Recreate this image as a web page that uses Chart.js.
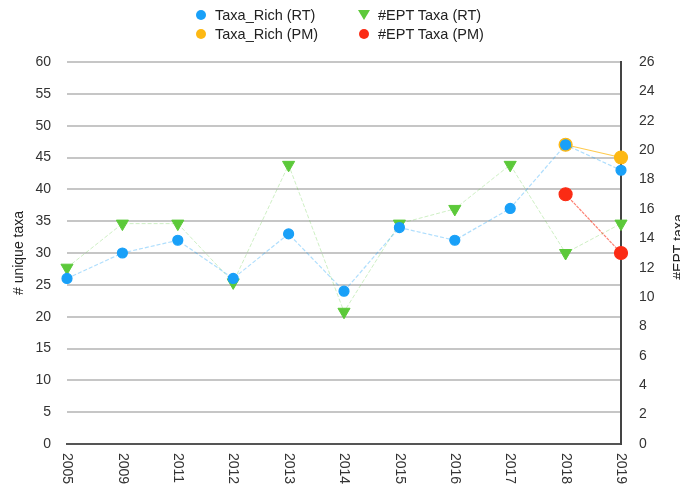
<!DOCTYPE html>
<html>
<head>
<meta charset="utf-8">
<script src="https://cdn.jsdelivr.net/npm/chart.js@4"></script>
<style>
  body { margin: 0; background: #fff; }
  #wrap { position: relative; width: 680px; height: 486px; font-family: "Liberation Sans", Arial, sans-serif; }
  #leyenda { position: absolute; left: 0; top: 0; width: 680px; height: 50px; font-size: 14.5px; color: #222; }
  .item { position: absolute; height: 18px; line-height: 18px; white-space: nowrap; }
  .punto { position: absolute; width: 10px; height: 10px; border-radius: 50%; top: 4px; left: -19px; }
  .tri { position: absolute; width: 0; height: 0; top: 4px; left: -20px;
         border-left: 6px solid transparent; border-right: 6px solid transparent; border-top: 10px solid #5cc93a; }
</style>
</head>
<body>
<div id="wrap">
  <canvas id="grafico" width="680" height="486"></canvas>
  <div id="leyenda"></div>
</div>
<script>
// datos
const anios = ['2005', '2009', '2011', '2012', '2013', '2014', '2015', '2016', '2017', '2018', '2019'];
const taxaRichRT = [26, 30, 32, 26, 33, 24, 34, 32, 37, 47, 43];
const eptRT = [12, 15, 15, 11, 19, 9, 15, 16, 19, 13, 15];
const taxaRichPM = [null, null, null, null, null, null, null, null, null, 47, 45];
const eptPM = [null, null, null, null, null, null, null, null, null, 17, 13];
const ticksIzq = [0, 5, 10, 15, 20, 25, 30, 35, 40, 45, 50, 55, 60];
const ticksDer = [0, 2, 4, 6, 8, 10, 12, 14, 16, 18, 20, 22, 24, 26];

const AZUL = '#19a0f8';
const VERDE = '#5cc93a';
const NARANJA = '#fdb813';
const ROJO = '#fb2b14';
const FUENTE = '"Liberation Sans", Arial, sans-serif';

// leyenda en html (2 columnas)
const leyenda = document.getElementById('leyenda');
const itemsLeyenda = [
  { texto: 'Taxa_Rich (RT)', color: AZUL, x: 215, y: 6, tri: false },
  { texto: '#EPT Taxa (RT)', color: VERDE, x: 378, y: 6, tri: true },
  { texto: 'Taxa_Rich (PM)', color: NARANJA, x: 215, y: 25, tri: false },
  { texto: '#EPT Taxa (PM)', color: ROJO, x: 378, y: 25, tri: false }
];
itemsLeyenda.forEach(it => {
  const div = document.createElement('div');
  div.className = 'item';
  div.style.left = it.x + 'px';
  div.style.top = it.y + 'px';
  const marca = document.createElement('span');
  if (it.tri) {
    marca.className = 'tri';
  } else {
    marca.className = 'punto';
    marca.style.background = it.color;
  }
  div.appendChild(marca);
  div.appendChild(document.createTextNode(it.texto));
  leyenda.appendChild(div);
});

// etiquetas del eje x giradas y titulo derecho
const textosExtra = {
  id: 'textosExtra',
  afterDraw(chart) {
    const c = chart.ctx;
    const ejeX = chart.scales.x;
    c.save();
    c.font = '14px ' + FUENTE;
    c.fillStyle = '#333';
    c.textAlign = 'left';
    c.textBaseline = 'middle';
    anios.forEach((a, i) => {
      const px = ejeX.getPixelForTick(i);
      c.save();
      c.translate(px, 453);
      c.rotate(Math.PI / 2);
      c.fillText(a, 0, 0);
      c.restore();
    });
    c.fillStyle = '#222';
    c.translate(679, 247);
    c.rotate(-Math.PI / 2);
    c.textAlign = 'center';
    c.fillText('#EPT taxa', 0, 0);
    c.restore();
  }
};

new Chart(document.getElementById('grafico').getContext('2d'), {
  type: 'line',
  data: {
    labels: anios,
    datasets: [
      {
        label: 'Taxa_Rich (RT)',
        data: taxaRichRT,
        yAxisID: 'y',
        borderColor: 'rgba(25,160,248,0.35)',
        borderWidth: 1.2,
        borderDash: [4, 2],
        pointBackgroundColor: AZUL,
        pointBorderColor: AZUL,
        pointRadius: 5,
        clip: false
      },
      {
        label: '#EPT Taxa (RT)',
        data: eptRT,
        yAxisID: 'y2',
        borderColor: 'rgba(92,201,58,0.3)',
        borderWidth: 1,
        borderDash: [4, 2],
        pointStyle: 'triangle',
        rotation: 180,
        pointBackgroundColor: VERDE,
        pointBorderColor: VERDE,
        pointRadius: 7,
        clip: false
      },
      {
        label: 'Taxa_Rich (PM)',
        data: taxaRichPM,
        yAxisID: 'y',
        borderColor: 'rgba(253,184,19,0.75)',
        borderWidth: 1.2,
        pointBackgroundColor: NARANJA,
        pointBorderColor: NARANJA,
        pointRadius: 6.5,
        clip: false
      },
      {
        label: '#EPT Taxa (PM)',
        data: eptPM,
        yAxisID: 'y2',
        borderColor: 'rgba(251,43,20,0.6)',
        borderWidth: 1.2,
        borderDash: [3, 1],
        pointBackgroundColor: ROJO,
        pointBorderColor: ROJO,
        pointRadius: 6.5,
        clip: false
      }
    ]
  },
  options: {
    responsive: false,
    animation: false,
    layout: { padding: { top: 62, left: 0, right: 0, bottom: 0 } },
    plugins: {
      legend: { display: false },
      tooltip: { enabled: false }
    },
    scales: {
      x: {
        offset: false,
        grid: { display: false },
        border: { display: true, color: '#555', width: 2 },
        ticks: { display: false },
        afterFit(scale) { scale.height = 42; }
      },
      y: {
        position: 'left',
        min: 0,
        max: 60,
        afterBuildTicks(scale) { scale.ticks = ticksIzq.map(v => ({ value: v })); },
        grid: { color: '#c6c6c6', lineWidth: 2, drawTicks: false },
        border: { display: false },
        ticks: {
          padding: 16,
          color: '#333',
          font: { family: FUENTE, size: 14 }
        },
        title: {
          display: true,
          text: '# unique taxa',
          color: '#222',
          padding: { top: 11, bottom: 0 },
          font: { family: FUENTE, size: 14 }
        },
        afterFit(scale) { scale.width = 67; }
      },
      y2: {
        position: 'right',
        min: 0,
        max: 26,
        afterBuildTicks(scale) { scale.ticks = ticksDer.map(v => ({ value: v })); },
        grid: { display: false, drawTicks: false },
        border: { display: true, color: '#444', width: 2 },
        ticks: {
          padding: 18,
          color: '#333',
          font: { family: FUENTE, size: 14 }
        },
        afterFit(scale) { scale.width = 59; }
      }
    }
  },
  plugins: [textosExtra]
});
</script>
</body>
</html>
